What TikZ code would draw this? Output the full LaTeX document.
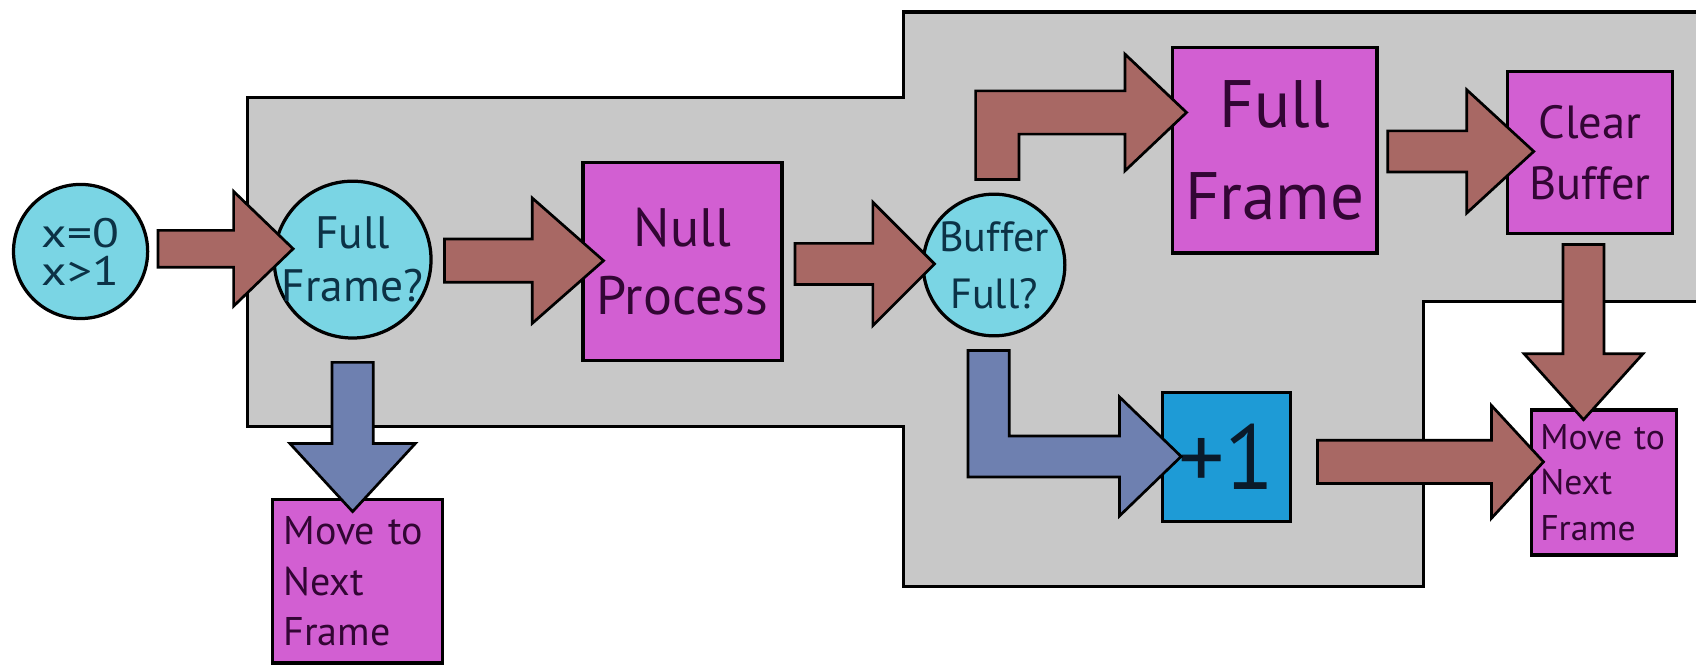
\documentclass[tikz,border=0pt]{standalone}
\usepackage{fontspec}
\setmainfont{PT Sans}
\newfontfamily\widesans[FakeStretch=1.2]{PT Sans}
\usetikzlibrary{calc}
\definecolor{grayfill}{RGB}{200,200,200}
\definecolor{cyanfill}{RGB}{122,213,228}
\definecolor{magfill}{RGB}{210,95,210}
\definecolor{bluefill}{RGB}{30,155,214}
\definecolor{brownfill}{RGB}{168,104,100}
\definecolor{slatefill}{RGB}{110,128,176}
\definecolor{tealtext}{RGB}{12,50,70}
\definecolor{purpletext}{RGB}{50,6,52}
\definecolor{darktext}{RGB}{10,26,42}
\tikzset{
  region/.style={fill=grayfill, draw=black, line width=3pt, line join=miter},
  decision/.style={circle, fill=cyanfill, draw=black, line width=3pt, inner sep=-22pt, text=tealtext, align=center},
  procbox/.style={rectangle, fill=magfill, draw=black, line width=3pt, inner sep=0pt, text=purpletext, align=center},
  movebox/.style={rectangle, fill=magfill, draw=black, line width=3pt, inner ysep=0pt, text=purpletext, align=left},
  plusbox/.style={rectangle, fill=bluefill, draw=black, line width=3pt, inner sep=0pt, text=darktext},
  brownarrow/.style={fill=brownfill, draw=black, line width=2.5pt, line join=miter},
  slatearrow/.style={fill=slatefill, draw=black, line width=2.5pt, line join=miter},
}
% right-pointing block arrow: style, tail, tip, shaft half, head half, head length
\newcommand{\blockR}[6]{%
  \draw[#1] ($(#2|-#3)+(0,-#4)$) -- ($(#3)+(-#6,-#4)$) -- ($(#3)+(-#6,-#5)$) -- (#3)
    -- ($(#3)+(-#6,#5)$) -- ($(#3)+(-#6,#4)$) -- ($(#2|-#3)+(0,#4)$) -- cycle;}
% down-pointing block arrow
\newcommand{\blockD}[6]{%
  \draw[#1] ($(#3|-#2)+(-#4,0)$) -- ($(#3)+(-#4,-#6)$) -- ($(#3)+(-#5,-#6)$) -- (#3)
    -- ($(#3)+(#5,-#6)$) -- ($(#3)+(#4,-#6)$) -- ($(#3|-#2)+(#4,0)$) -- cycle;}
% up then right
\newcommand{\blockUR}[6]{%
  \draw[#1] ($(#2)+(-#4,0)$) -- ($(#2|-#3)+(-#4,-#4)$) -- ($(#3)+(-#6,-#4)$) -- ($(#3)+(-#6,-#5)$) -- (#3)
    -- ($(#3)+(-#6,#5)$) -- ($(#3)+(-#6,#4)$) -- ($(#2|-#3)+(#4,#4)$) -- ($(#2)+(#4,0)$) -- cycle;}
% down then right
\newcommand{\blockDR}[6]{%
  \draw[#1] ($(#2)+(-#4,0)$) -- ($(#2|-#3)+(-#4,#4)$) -- ($(#3)+(-#6,#4)$) -- ($(#3)+(-#6,#5)$) -- (#3)
    -- ($(#3)+(-#6,-#5)$) -- ($(#3)+(-#6,-#4)$) -- ($(#2|-#3)+(#4,-#4)$) -- ($(#2)+(#4,0)$) -- cycle;}
\begin{document}
\begin{tikzpicture}[x=1pt,y=-1pt]
\useasboundingbox (0,0) rectangle (1568,616);
\fill[white] (0,0) rectangle (1568,616);
% grey region
\draw[region] (229,90) -- (835,90) -- (835,11) -- (1585,11) -- (1585,279) -- (1316,279)
  -- (1316,542) -- (835,542) -- (835,394) -- (229,394) -- cycle;
% nodes
\node[decision, minimum size=124pt, font=\widesans\fontsize{38}{35}\selectfont] (start) at (74.5,232.5) {x=0\\x>1};
\node[decision, minimum size=145pt, font=\fontsize{42}{49}\selectfont] (ffq) at (326,240) {Full\\Frame?};
\node[procbox, minimum width=184pt, minimum height=183pt, font=\fontsize{50}{63}\selectfont] (null) at (631,241.5) {Null\\Process};
\node[decision, minimum size=131pt, font=\fontsize{39}{53}\selectfont] (bfq) at (919,245) {Buffer\\Full?};
\node[procbox, minimum width=189pt, minimum height=190pt, font=\fontsize{62}{85}\selectfont] (fullframe) at (1178.5,139) {Full\\Frame};
\node[procbox, minimum width=152pt, minimum height=150pt, font=\fontsize{43}{56}\selectfont] (clear) at (1470,141) {Clear\\Buffer};
\node[plusbox, minimum width=118pt, minimum height=119pt, font=\fontsize{85}{90}\selectfont] (plus) at (1134,422.5) {+1};
\node[movebox, inner xsep=8pt, text width=118pt, minimum height=134pt, font=\fontsize{33}{42}\selectfont] (moveR) at (1483,446) {Move to\\Next\\Frame};
\node[movebox, inner xsep=10pt, text width=137pt, minimum height=151pt, font=\fontsize{37}{47}\selectfont] (moveB) at (330.5,537.5) {Move to\\Next\\Frame};
% connector end points
\coordinate (a1t) at (146,230);  \coordinate (a1h) at (271,230);
\coordinate (a2t) at (411,241);  \coordinate (a2h) at (558,241);
\coordinate (a3t) at (735,244);  \coordinate (a3h) at (864,244);
\coordinate (a4t) at (922,166);  \coordinate (a4h) at (1097,104);
\coordinate (a5t) at (1283,140); \coordinate (a5h) at (1418,140);
\coordinate (a6t) at (1464,226); \coordinate (a6h) at (1464,388);
\coordinate (a7t) at (1218,427); \coordinate (a7h) at (1427,427);
\coordinate (a8t) at (914,324);  \coordinate (a8h) at (1092,422);
\coordinate (a9t) at (326,335);  \coordinate (a9h) at (326,473);
% connectors
\blockR{brownarrow}{a1t}{a1h}{17}{53}{55}
\blockR{brownarrow}{a2t}{a2h}{20}{58}{66}
\blockR{brownarrow}{a3t}{a3h}{19}{57}{57}
\blockUR{brownarrow}{a4t}{a4h}{20}{54}{57}
\blockR{brownarrow}{a5t}{a5h}{19}{57}{62}
\blockD{brownarrow}{a6t}{a6h}{19}{55}{61}
\blockR{brownarrow}{a7t}{a7h}{20}{52}{48}
\blockDR{slatearrow}{a8t}{a8h}{19}{55}{57}
\blockD{slatearrow}{a9t}{a9h}{19}{58}{63}
\end{tikzpicture}
\end{document}
